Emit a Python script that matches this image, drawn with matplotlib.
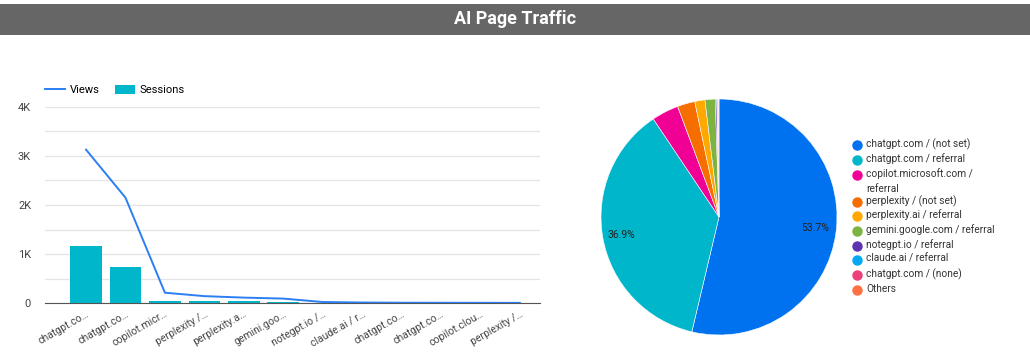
import numpy as np
import matplotlib
matplotlib.use("Agg")
import matplotlib.pyplot as plt
from matplotlib.patches import Rectangle
from matplotlib.lines import Line2D

plt.rcParams['font.family'] = ['Roboto', 'DejaVu Sans']

# bar / line data
sources_short = ["chatgpt.co…", "chatgpt.co…", "copilot.micr…", "perplexity /…",
                 "perplexity.a…", "gemini.goo…", "notegpt.io /…", "claude.ai / r…",
                 "chatgpt.co…", "chatgpt.co…", "copilot.clou…", "perplexity /…"]
views = [3130, 2150, 210, 140, 110, 90, 20, 10, 6, 5, 4, 3]
sessions = [1170, 730, 45, 50, 40, 30, 8, 5, 3, 2, 2, 1]

# pie data
pie_labels = ["chatgpt.com / (not set)", "chatgpt.com / referral",
              "copilot.microsoft.com /\nreferral", "perplexity / (not set)",
              "perplexity.ai / referral", "gemini.google.com / referral",
              "notegpt.io / referral", "claude.ai / referral",
              "chatgpt.com / (none)", "Others"]
pie_share = [53.7, 36.9, 3.7, 2.4, 1.4, 1.4, 0.2, 0.1, 0.1, 0.1]
pie_colors = ["#0072f0", "#00b6cb", "#f10096", "#f66d00", "#ffa800",
              "#7cb342", "#5e35b1", "#03a9f4", "#ec407a", "#ff7043"]

W, H = 1030, 355
fig = plt.figure(figsize=(W / 100, H / 100), dpi=100)

# title band
fig.patches.append(Rectangle((0, (H - 35) / H), 1, 31 / H, transform=fig.transFigure,
                             facecolor="#666666", edgecolor="none"))
fig.text(0.5, (H - 19.5) / H, "AI Page Traffic", color="white", fontsize=13,
         fontweight="bold", ha="center", va="center",
         family=["Liberation Sans Narrow", "Roboto"])

# combo chart
ax = fig.add_axes([45 / W, (H - 303) / H, 495 / W, 196 / H])
x = np.arange(len(sources_short))
ax.bar(x, sessions, width=0.8, color="#00b6cb", zorder=2)
ax.plot(x, views, color="#2b7ff3", lw=1.4, zorder=3)
ax.set_xlim(-1.04, 11.51)
ax.set_ylim(0, 4000)
ax.set_yticks(np.arange(0, 4001, 500))
ax.set_yticklabels(["0", "", "1K", "", "2K", "", "3K", "", "4K"])
ax.grid(axis="y", color="#e4e4e4", lw=0.9, zorder=0)
for s in ["top", "right", "left"]:
    ax.spines[s].set_visible(False)
ax.spines["bottom"].set_color("#555555")
ax.tick_params(axis="y", length=0, labelsize=8, colors="#444444", pad=10)
ax.set_xticks(x)
ax.set_xticklabels(sources_short, rotation=30, ha="right", rotation_mode="anchor",
                   fontsize=7.5, color="#444444")
ax.tick_params(axis="x", length=0, pad=4)

handles = [Line2D([0], [0], color="#2b7ff3", lw=1.4),
           Rectangle((0, 0), 1, 1, facecolor="#00b6cb")]
ax.legend(handles, ["Views", "Sessions"], loc="center left",
          bbox_to_anchor=(0.0, 1.087), ncol=2, frameon=False, fontsize=8,
          handlelength=1.8, handleheight=0.9, columnspacing=1.45, handletextpad=0.4,
          borderaxespad=0, borderpad=0)

# pie chart
R = 120
pax = fig.add_axes([(719 - R) / W, (H - 217 - R) / H, 2 * R / W, 2 * R / H])
wedges, _ = pax.pie(pie_share, colors=pie_colors, startangle=90, counterclock=False,
                    radius=118 / R, wedgeprops=dict(linewidth=0.4, edgecolor="white"))
pax.set_xlim(-1, 1)
pax.set_ylim(-1, 1)
pax.set_aspect("equal")

# percent labels for the two big slices
cum = 0
for i, v in enumerate(pie_share):
    if v > 10:
        mid = np.deg2rad(90 - (cum + v / 2) * 3.6)
        r = 0.81 if i == 0 else 0.83
        pax.text(r * np.cos(mid), r * np.sin(mid), f"{v:.1f}%", fontsize=7.5,
                 color="#222222", ha="center", va="center")
    cum += v

# legend
leg_y = [145, 160, 174.5, 201.5, 216, 231, 246, 260, 275, 290]
for y, lab, c in zip(leg_y, pie_labels, pie_colors):
    fig.lines.append(Line2D([857 / W], [(H - y) / H], marker="o", markersize=6.5,
                            color=c, transform=fig.transFigure, linestyle="none"))
    fig.text(866.5 / W, (H - y + 6.5) / H, lab, fontsize=7.3, color="#333333",
             ha="left", va="top", linespacing=1.6)

fig.savefig("out.png", dpi=100, facecolor="white")
